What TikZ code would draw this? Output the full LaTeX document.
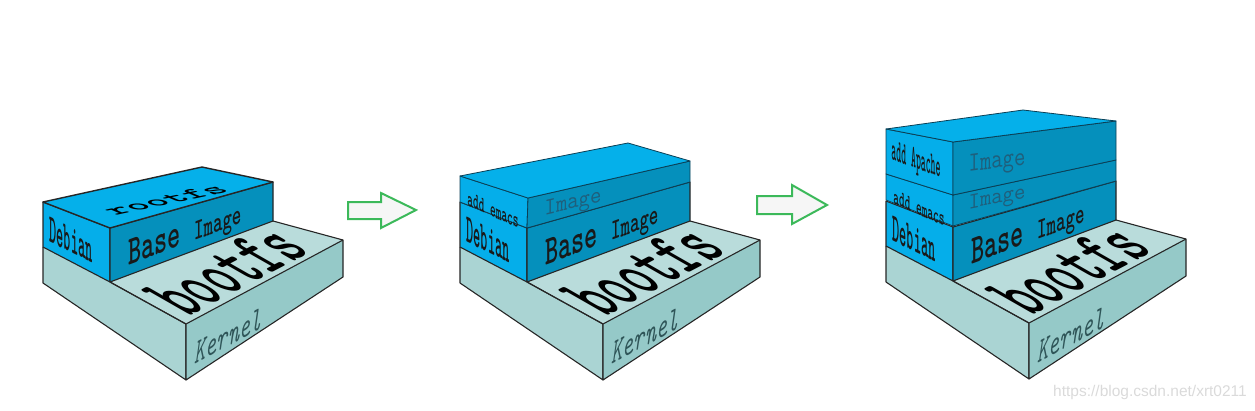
\documentclass[tikz,border=0pt]{standalone}
\usepackage{fontspec}
\definecolor{slabtop}{HTML}{B9DCDB}
\definecolor{slableft}{HTML}{AAD4D3}
\definecolor{slabright}{HTML}{95C9C8}
\definecolor{slabtext}{HTML}{2F5558}
\definecolor{bluetop}{HTML}{05B0EA}
\definecolor{blueleft}{HTML}{05AEEA}
\definecolor{blueright}{HTML}{0590BC}
\definecolor{imagetext}{HTML}{1F5F7C}
\definecolor{thinline}{HTML}{0B3F55}
\definecolor{arrowgreen}{HTML}{3CB95A}
\definecolor{arrowfill}{HTML}{F6F6F6}
\definecolor{marktext}{HTML}{DADADA}
\tikzset{
	face/.style={draw=black!85, line width=1.1pt, line join=round},
	thinface/.style={draw=thinline, line width=0.8pt, line join=round},
	slabtxt/.style={inner sep=0pt, text=slabtext},
	heavytxt/.style={inner sep=0pt, text=black},
	sidetxt/.style={inner sep=0pt, text=black!90},
	imgtxt/.style={inner sep=0pt, text=imagetext},
	greenarrow/.style={draw=arrowgreen, fill=arrowfill, line width=2pt, miter limit=6}
}
% slab with the blue base layer, #1 is the number of the stack
\newcommand{\kernelbase}[1]{
	\fill[slabtop] (0,0) -- (67,35) -- (143,77) -- (300,-7) -- (230,-26) -- (67,35) -- cycle;
	\draw[face,fill=slableft] (0,0) -- (0,36) -- (143,133) -- (143,77) -- (67,35);
	\draw[face,fill=slabright] (143,77) -- (143,133) -- (300,30) -- (300,-7) -- cycle;
	\draw[face] (67,35) -- (143,77) (300,-7) -- (230,-26);
	\draw[face,fill=blueleft] (0,0) -- (0,-45) -- (67,-19) -- (67,35) -- cycle;
	\draw[face,fill=blueright] (67,-19) -- (67,35) -- (230,-26) -- (230,-65) -- cycle;
	\node[slabtxt, font=\fontsize{23}{23}\ttfamily\itshape, yslant=.53, yscale=1.5, xscale=.92] (kernel#1) at (185,89) {Kernel};
	\node[heavytxt, font=\fontsize{44}{44}\ttfamily\bfseries\addfontfeature{FakeBold=3.5}, cm={.9,.47,-1.75,1.0,(0,0)}] (bootfs#1) at (183,24) {bootfs};
	\node[sidetxt, font=\fontsize{22}{22}\ttfamily\bfseries\addfontfeature{FakeBold=1.5}, yslant=-.5, xscale=.62, yscale=1.85] (debian#1) at (28,-7) {Debian};
	\node[sidetxt, font=\ttfamily\bfseries\addfontfeature{FakeBold=2.5}, yslant=.374, yscale=1.65] (base#1) at (142,-12) {\fontsize{25}{25}\selectfont Base \fontsize{18}{18}\selectfont Image};
}
\begin{document}
\begin{tikzpicture}[x=1pt, y=-1pt]
	\useasboundingbox (0,0) rectangle (1255,410);

	% first stack
	\begin{scope}[shift={(43,247)}]
		\kernelbase{1}
		\draw[face,line width=1.4pt,fill=bluetop] (0,-45) -- (159,-80) -- (230,-65) -- (67,-19) -- cycle;
		\node[heavytxt, font=\fontsize{30}{30}\ttfamily\bfseries\addfontfeature{FakeBold=2.5}, cm={1.22,.26,-.9,.38,(0,0)}] (rootfs1) at (122,-47) {rootfs};
	\end{scope}

	% second stack
	\begin{scope}[shift={(460,247)}]
		\kernelbase{2}
		\draw[thinface,fill=blueleft] (0,-45) -- (0,-71) -- (68,-49) -- (67,-19) -- cycle;
		\draw[thinface,fill=blueright] (67,-19) -- (68,-49) -- (230,-86) -- (230,-65) -- cycle;
		\draw[thinface,fill=bluetop] (0,-71) -- (168,-104) -- (230,-86) -- (68,-49) -- cycle;
		\node[sidetxt, font=\fontsize{15}{15}\ttfamily\bfseries, yslant=-.45, xscale=.72, yscale=1.5] (emacs2) at (33,-37) {add emacs};
		\node[imgtxt, font=\fontsize{22}{22}\ttfamily, yslant=.23, yscale=1.1] (image2) at (113,-43) {Image};
	\end{scope}

	% third stack
	\begin{scope}[shift={(886,246)}]
		\kernelbase{3}
		\draw[thinface,fill=blueleft] (0,-46) -- (0,-72) -- (67,-51) -- (67,-20) -- cycle;
		\draw[thinface,fill=blueright] (67,-20) -- (67,-51) -- (230,-86) -- (230,-65) -- cycle;
		\draw[thinface,fill=blueleft] (0,-72) -- (0,-117) -- (67,-104) -- (67,-51) -- cycle;
		\draw[thinface,fill=blueright] (67,-51) -- (67,-104) -- (230,-125) -- (230,-86) -- cycle;
		\draw[thinface,fill=bluetop] (0,-117) -- (137,-136) -- (230,-125) -- (67,-104) -- cycle;
		\node[sidetxt, font=\fontsize{15}{15}\ttfamily\bfseries, yslant=-.45, xscale=.72, yscale=1.5] (emacs3) at (33,-38) {add emacs};
		\node[imgtxt, font=\fontsize{22}{22}\ttfamily, yslant=.2, yscale=1.05] (image3) at (111,-47) {Image};
		\node[sidetxt, font=\fontsize{17}{17}\ttfamily\bfseries, yslant=-.35, xscale=.55, yscale=1.9] (apache3) at (30,-84) {add Apache};
		\node[imgtxt, font=\fontsize{22}{22}\ttfamily, yslant=.13, yscale=1.25] (image4) at (111,-83) {Image};
	\end{scope}

	% arrows between the stacks
	\draw[greenarrow] (348,202) -- (381,202) -- (381,193) -- (416,210) -- (381,228) -- (381,219) -- (348,219) -- cycle;
	\draw[greenarrow] (757,196) -- (792,196) -- (792,185) -- (827,205) -- (792,224) -- (792,214) -- (757,214) -- cycle;

	\node[inner sep=0pt, font=\fontspec{Liberation Sans}\fontsize{15.5}{15.5}\selectfont, text=marktext, anchor=east] (mark) at (1247,392) {https://blog.csdn.net/xrt0211};
\end{tikzpicture}
\end{document}
